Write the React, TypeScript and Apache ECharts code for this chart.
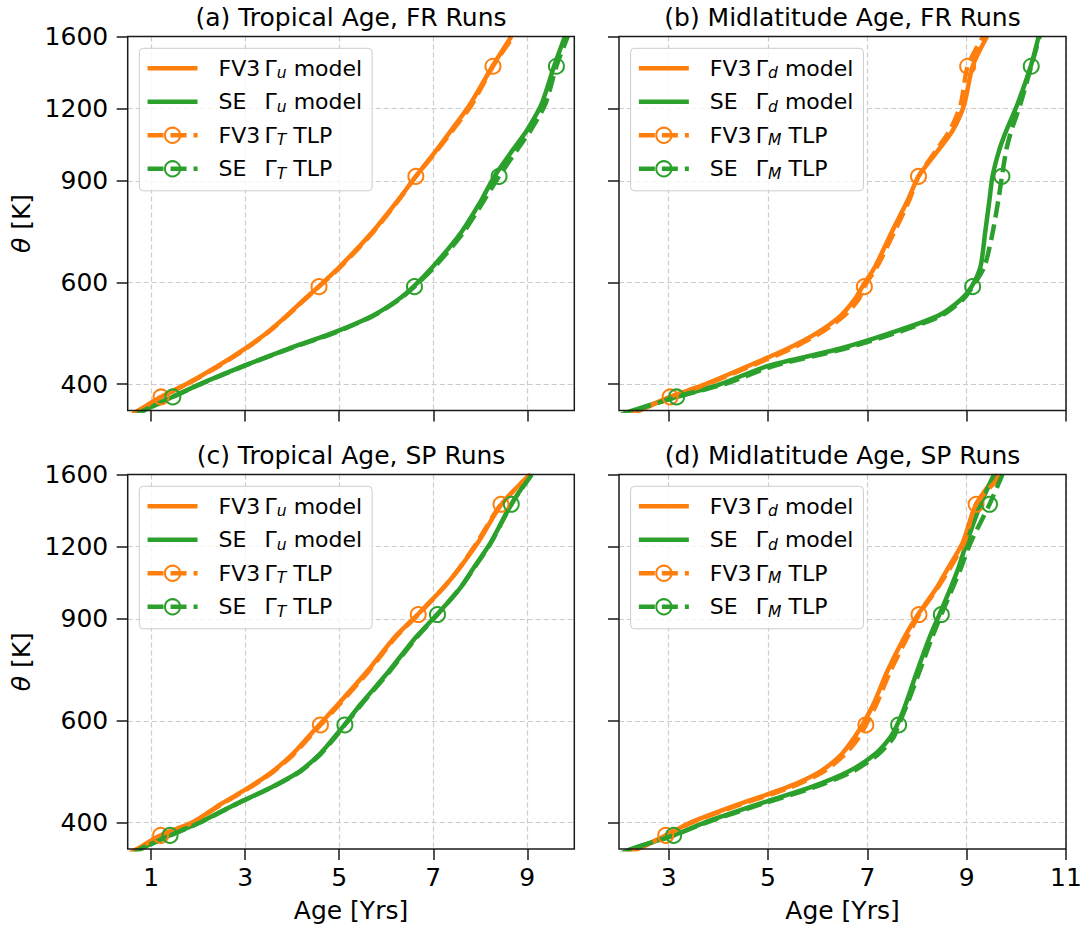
import React, { useEffect, useRef } from 'react';
import * as echarts from 'echarts';

// ---------------- data ----------------
const THETA = [350, 360, 380, 400, 430, 460, 490, 525, 560, 590, 640, 730, 835, 916, 1020, 1100, 1220, 1421, 1600];
const MARKER_THETA = [380, 590, 916, 1421];
const Y_TICKS = [400, 600, 900, 1200, 1600];
const Y_RANGE = [360, 1600];
const X_TICKS_TROP = [1, 3, 5, 7, 9];
const X_TICKS_MID = [3, 5, 7, 9, 11];
const X_RANGE_TROP = [0.5, 10];
const X_RANGE_MID = [2, 11];

// (a) Tropical age, FR runs
const A_FV3_MODEL = [0.50, 0.73, 1.21, 1.75, 2.42, 2.98, 3.45, 3.88, 4.25, 4.56, 5.02, 5.68, 6.26, 6.63, 7.08, 7.38, 7.78, 8.26, 8.66];
const A_SE_MODEL = [0.58, 0.84, 1.45, 2.04, 2.97, 3.90, 4.85, 5.70, 6.25, 6.58, 7.00, 7.58, 8.03, 8.30, 8.70, 8.99, 9.30, 9.57, 9.80];
const A_FV3_TLP = [0.50, 0.74, 1.21, 1.76, 2.44, 3.00, 3.46, 3.89, 4.26, 4.57, 5.04, 5.70, 6.27, 6.63, 7.10, 7.41, 7.82, 8.27, 8.70];
const A_SE_TLP = [0.58, 0.85, 1.46, 2.05, 2.98, 3.92, 4.88, 5.72, 6.27, 6.60, 7.04, 7.63, 8.09, 8.40, 8.79, 9.07, 9.38, 9.62, 9.86];
// (b) Midlatitude age, FR runs
const B_FV3_MODEL = [2.15, 2.42, 3.03, 3.74, 4.60, 5.38, 5.98, 6.46, 6.74, 6.90, 7.16, 7.48, 7.82, 8.03, 8.44, 8.72, 8.95, 9.12, 9.41];
const B_SE_MODEL = [1.90, 2.28, 3.16, 4.04, 5.00, 6.42, 7.46, 8.42, 8.88, 9.10, 9.28, 9.37, 9.46, 9.52, 9.66, 9.80, 10.02, 10.29, 10.45];
const B_FV3_TLP = [2.15, 2.42, 3.03, 3.78, 4.66, 5.45, 6.05, 6.53, 6.82, 6.94, 7.20, 7.53, 7.85, 8.03, 8.40, 8.66, 8.88, 9.02, 9.33];
const B_SE_TLP = [1.90, 2.30, 3.16, 4.12, 5.12, 6.52, 7.56, 8.48, 8.92, 9.12, 9.36, 9.52, 9.64, 9.71, 9.80, 9.90, 10.08, 10.30, 10.47];
// (c) Tropical age, SP runs
const C_FV3_MODEL = [0.45, 0.70, 1.19, 1.87, 2.47, 3.08, 3.58, 4.00, 4.32, 4.57, 4.97, 5.59, 6.17, 6.67, 7.22, 7.55, 7.95, 8.45, 9.05];
const C_SE_MODEL = [0.55, 0.77, 1.39, 2.03, 2.79, 3.55, 4.15, 4.58, 4.88, 5.11, 5.45, 6.05, 6.62, 7.08, 7.58, 7.85, 8.22, 8.66, 9.08];
const C_FV3_TLP = [0.45, 0.71, 1.20, 1.88, 2.49, 3.10, 3.60, 4.03, 4.35, 4.60, 5.00, 5.62, 6.19, 6.68, 7.22, 7.55, 7.93, 8.44, 9.08];
const C_SE_TLP = [0.55, 0.78, 1.40, 2.04, 2.80, 3.56, 4.17, 4.60, 4.90, 5.12, 5.47, 6.07, 6.64, 7.09, 7.58, 7.86, 8.23, 8.66, 9.10];
// (d) Midlatitude age, SP runs
const D_FV3_MODEL = [2.05, 2.38, 2.94, 3.44, 4.40, 5.38, 6.05, 6.48, 6.73, 6.90, 7.12, 7.40, 7.74, 8.02, 8.40, 8.62, 8.92, 9.19, 9.62];
const D_SE_MODEL = [1.95, 2.24, 3.10, 3.72, 4.79, 5.85, 6.62, 7.15, 7.45, 7.60, 7.77, 8.00, 8.25, 8.45, 8.68, 8.83, 9.00, 9.28, 9.55];
const D_FV3_TLP = [2.05, 2.38, 2.94, 3.46, 4.45, 5.45, 6.12, 6.55, 6.82, 6.97, 7.18, 7.46, 7.80, 8.04, 8.42, 8.66, 8.95, 9.19, 9.72];
const D_SE_TLP = [1.95, 2.26, 3.10, 3.76, 4.85, 5.92, 6.70, 7.22, 7.52, 7.63, 7.80, 8.05, 8.30, 8.49, 8.72, 8.88, 9.08, 9.46, 9.72];

const TITLES = ['(a) Tropical Age, FR Runs', '(b) Midlatitude Age, FR Runs', '(c) Tropical Age, SP Runs', '(d) Midlatitude Age, SP Runs'];

// ---------------- styling / layout ----------------
const ORANGE = '#ff7f0e';
const GREEN = '#2ca02c';
const FONT = 'DejaVu Sans';
const INK = '#000000';
const FRAME = '#1a1a1a';

const COL_LEFT = [127.7, 619];
const COL_WIDTH = [446.6, 447];
const ROW_TOP = [36.5, 474.5];
const ROW_HEIGHT = [374, 374.5];

const PANELS = [
  { key: 'a', col: 0, row: 0, modelSub: 'u', tlpSub: 'T', fv3Model: A_FV3_MODEL, seModel: A_SE_MODEL, fv3Tlp: A_FV3_TLP, seTlp: A_SE_TLP, xRange: X_RANGE_TROP, xTicks: X_TICKS_TROP },
  { key: 'b', col: 1, row: 0, modelSub: 'd', tlpSub: 'M', fv3Model: B_FV3_MODEL, seModel: B_SE_MODEL, fv3Tlp: B_FV3_TLP, seTlp: B_SE_TLP, xRange: X_RANGE_MID, xTicks: X_TICKS_MID },
  { key: 'c', col: 0, row: 1, modelSub: 'u', tlpSub: 'T', fv3Model: C_FV3_MODEL, seModel: C_SE_MODEL, fv3Tlp: C_FV3_TLP, seTlp: C_SE_TLP, xRange: X_RANGE_TROP, xTicks: X_TICKS_TROP },
  { key: 'd', col: 1, row: 1, modelSub: 'd', tlpSub: 'M', fv3Model: D_FV3_MODEL, seModel: D_SE_MODEL, fv3Tlp: D_FV3_TLP, seTlp: D_SE_TLP, xRange: X_RANGE_MID, xTicks: X_TICKS_MID },
];

const LOG_Y_TICKS = Y_TICKS.map((v) => Math.log10(v));

function buildOption() {
  const grids: any[] = [];
  const xAxes: any[] = [];
  const yAxes: any[] = [];
  const series: any[] = [];
  const legends: any[] = [];
  const graphics: any[] = [];
  const labelMap: Record<string, string> = {};

  PANELS.forEach((p, i) => {
    const left = COL_LEFT[p.col];
    const top = ROW_TOP[p.row];
    const width = COL_WIDTH[p.col];
    const height = ROW_HEIGHT[p.row];
    const bottomRow = p.row === 1;
    const leftCol = p.col === 0;

    grids.push({
      left, top, width, height,
      show: false,
      containLabel: false,
      outerBoundsMode: 'none',
    });

    const splitLine = { show: true, lineStyle: { color: '#cccccc', width: 1.2, type: [5, 3] } };

    xAxes.push({
      type: 'value',
      gridIndex: i,
      min: p.xRange[0],
      max: p.xRange[1],
      axisLine: { show: false, onZero: false },
      axisTick: { show: true, length: 11, inside: false, lineStyle: { color: FRAME, width: 1.5 }, customValues: p.xTicks },
      axisLabel: {
        show: bottomRow,
        customValues: p.xTicks,
        margin: 16,
        fontSize: 25,
        fontFamily: FONT,
        color: INK,
      },
      splitLine,
    });

    yAxes.push({
      type: 'value',
      gridIndex: i,
      min: Math.log10(Y_RANGE[0]),
      max: Math.log10(Y_RANGE[1]),
      axisLine: { show: false, onZero: false },
      axisTick: { show: true, length: 11, inside: false, lineStyle: { color: FRAME, width: 1.5 }, customValues: LOG_Y_TICKS },
      axisLabel: {
        show: leftCol,
        customValues: LOG_Y_TICKS,
        margin: 19.5,
        fontSize: 25,
        fontFamily: FONT,
        color: INK,
        formatter: (v: number) => String(Math.round(Math.pow(10, v))),
      },
      splitLine,
    });

    const names = {
      fm: `${p.key}-fv3-model`,
      sm: `${p.key}-se-model`,
      ft: `${p.key}-fv3-tlp`,
      st: `${p.key}-se-tlp`,
    };
    labelMap[names.fm] = `{p| }{w|FV3}{g|Γ}{s|${p.modelSub}}{m|model}`;
    labelMap[names.sm] = `{p| }{w|SE}{g|Γ}{s|${p.modelSub}}{m|model}`;
    labelMap[names.ft] = `{p| }{w|FV3}{g|Γ}{s|${p.tlpSub}}{m|TLP}`;
    labelMap[names.st] = `{p| }{w|SE}{g|Γ}{s|${p.tlpSub}}{m|TLP}`;

    const modelSeries = (name: string, xs: number[], color: string) => ({
      type: 'line',
      name,
      xAxisIndex: i,
      yAxisIndex: i,
      data: THETA.map((t, k) => [xs[k], Math.log10(t)]),
      showSymbol: false,
      symbol: 'circle',
      symbolSize: 15,
      smooth: 0.25,
      clip: true,
      silent: true,
      itemStyle: { color: 'rgba(0,0,0,0)', borderColor: 'rgba(0,0,0,0)', borderWidth: 0 },
      lineStyle: { color, width: 4.5, type: 'solid', cap: 'butt', join: 'round' },
      emphasis: { disabled: true },
    });

    const tlpSeries = (name: string, xs: number[], color: string) => ({
      type: 'line',
      name,
      xAxisIndex: i,
      yAxisIndex: i,
      data: THETA.map((t, k) => ({
        value: [xs[k], Math.log10(t)],
        symbol: MARKER_THETA.includes(t) ? 'circle' : 'none',
      })),
      showSymbol: true,
      symbol: 'circle',
      symbolSize: 15,
      smooth: 0.25,
      clip: true,
      silent: true,
      itemStyle: { color: 'rgba(0,0,0,0)', borderColor: color, borderWidth: 2 },
      lineStyle: { color, width: 4.5, type: [16, 7], cap: 'butt', join: 'round' },
      emphasis: { disabled: true },
    });

    series.push(modelSeries(names.fm, p.fv3Model, ORANGE));
    series.push(modelSeries(names.sm, p.seModel, GREEN));
    series.push(tlpSeries(names.ft, p.fv3Tlp, ORANGE));
    series.push(tlpSeries(names.st, p.seTlp, GREEN));

    legends.push({
      show: true,
      orient: 'vertical',
      left: left + 11.6,
      top: top + 11.8,
      padding: [7, 10, 9, 6],
      itemGap: 7.5,
      itemWidth: 50,
      itemHeight: 19,
      selectedMode: false,
      backgroundColor: 'rgba(255,255,255,0.8)',
      borderColor: '#cccccc',
      borderWidth: 1,
      borderRadius: 4,
      data: [names.fm, names.sm, names.ft, names.st],
      formatter: (name: string) => labelMap[name],
      lineStyle: { width: 4.5 },
      textStyle: {
        fontFamily: FONT,
        fontSize: 22,
        color: INK,
        lineHeight: 26,
        rich: {
          p: { width: 16, fontSize: 22, lineHeight: 26, fontFamily: FONT },
          w: { width: 46, fontSize: 22, lineHeight: 26, fontFamily: FONT, color: INK },
          g: { fontSize: 22, lineHeight: 26, fontFamily: FONT, color: INK },
          s: { fontSize: 15.5, fontStyle: 'italic', lineHeight: 12, verticalAlign: 'bottom', fontFamily: FONT, color: INK },
          m: { fontSize: 22, lineHeight: 26, fontFamily: FONT, color: INK, padding: [0, 0, 0, 7] },
        },
      },
    });

    // frame (spines) on top of everything
    graphics.push({
      type: 'rect',
      z: 100,
      silent: true,
      shape: { x: left, y: top, width, height },
      style: { fill: 'none', stroke: FRAME, lineWidth: 1.5 },
    });

    // panel title
    graphics.push({
      type: 'text',
      x: left + width / 2,
      y: top - 19,
      silent: true,
      style: {
        text: TITLES[i],
        fill: INK,
        fontSize: 25,
        fontFamily: FONT,
        textAlign: 'center',
        textVerticalAlign: 'middle',
      },
    });

    if (leftCol) {
      graphics.push({
        type: 'text',
        x: 21,
        y: top + height / 2,
        rotation: Math.PI / 2,
        silent: true,
        style: {
          text: '{i|θ}{n|[K]}',
          fill: INK,
          fontSize: 25,
          fontFamily: FONT,
          textAlign: 'center',
          textVerticalAlign: 'middle',
          rich: {
            i: { fontSize: 25, fontStyle: 'italic', fontFamily: FONT, fill: INK },
            n: { fontSize: 25, fontFamily: FONT, fill: INK, padding: [0, 0, 0, 8] },
          },
        },
      });
    }
    if (bottomRow) {
      graphics.push({
        type: 'text',
        x: left + width / 2,
        y: 910.7,
        silent: true,
        style: {
          text: 'Age [Yrs]',
          fill: INK,
          fontSize: 25,
          fontFamily: FONT,
          textAlign: 'center',
          textVerticalAlign: 'middle',
        },
      });
    }
  });

  return {
    animation: false,
    backgroundColor: '#ffffff',
    textStyle: { fontFamily: FONT },
    grid: grids,
    xAxis: xAxes,
    yAxis: yAxes,
    legend: legends,
    series,
    graphic: graphics,
  };
}

export default function App() {
  const ref = useRef<HTMLDivElement>(null);
  useEffect(() => {
    if (!ref.current) return;
    const chart = echarts.init(ref.current, null, { renderer: 'svg' });
    chart.setOption(buildOption() as any);
    return () => {
      chart.dispose();
    };
  }, []);
  return (
    <div
      ref={ref}
      style={{ position: 'fixed', left: 0, top: 0, width: 1089, height: 929, background: '#ffffff' }}
    />
  );
}
